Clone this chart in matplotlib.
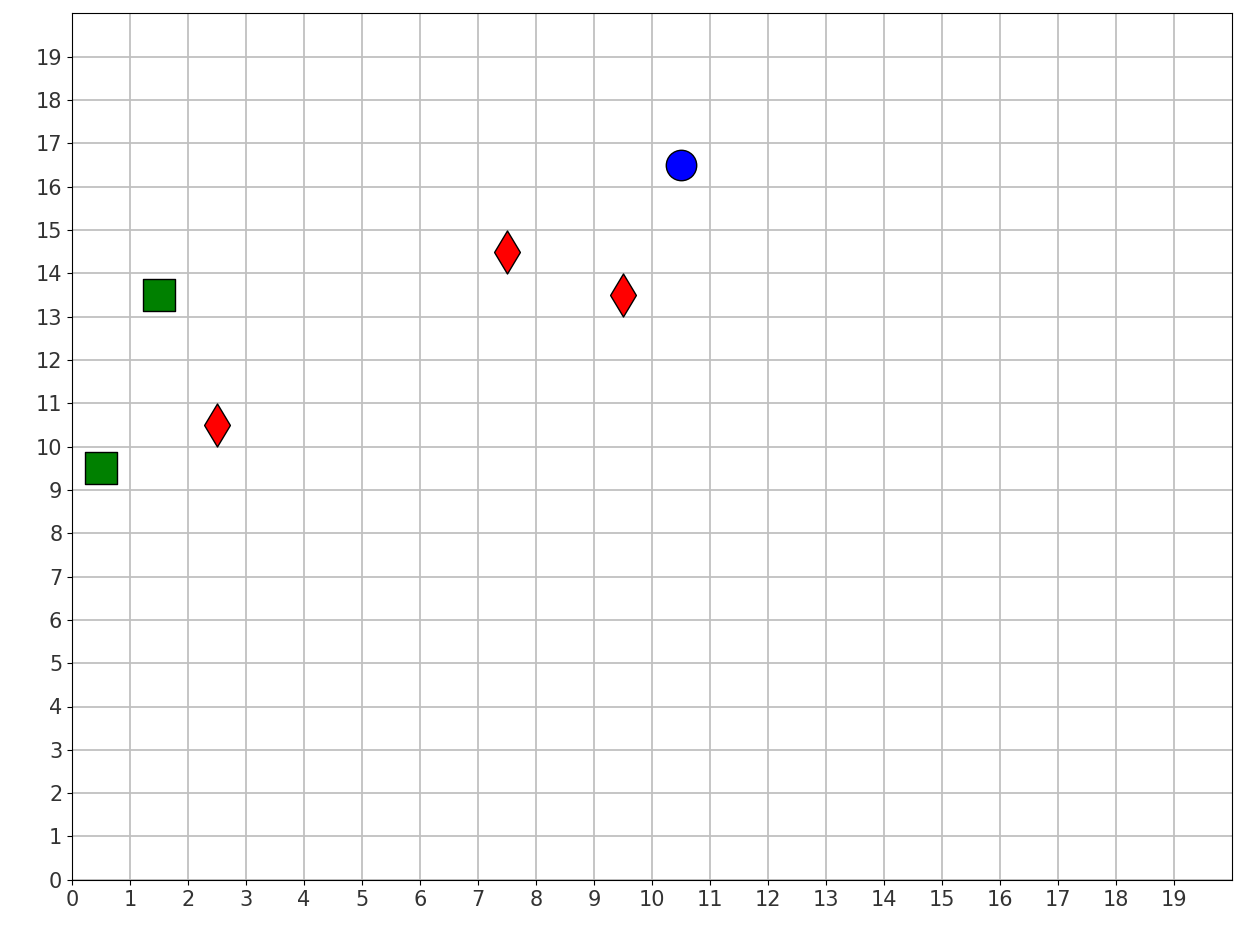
import matplotlib.pyplot as plt

# Data
square_x = [0.5, 1.5]
square_y = [9.5, 13.5]
diamond_x = [2.5, 7.5, 9.5]
diamond_y = [10.5, 14.5, 13.5]
circle_x = [10.5]
circle_y = [16.5]
ticks = list(range(20))

fig = plt.figure(figsize=(12.42, 9.42), dpi=100)
ax = fig.add_axes([0.058, 0.066, 0.934, 0.920])
ax.set_xlim(0, 20)
ax.set_ylim(0, 20)
ax.set_xticks(ticks)
ax.set_yticks(ticks)
ax.tick_params(labelsize=15, labelcolor="#333333")
ax.grid(True, color="#c0c0c0", linewidth=1.3)
ax.set_axisbelow(True)

ax.scatter(square_x, square_y, marker="s", s=540, c="green", edgecolors="black", linewidths=1, zorder=3)
ax.scatter(diamond_x, diamond_y, marker="d", s=480, c="red", edgecolors="black", linewidths=1, zorder=3)
ax.scatter(circle_x, circle_y, marker="o", s=480, c="blue", edgecolors="black", linewidths=1, zorder=3)

fig.savefig("out.png")
